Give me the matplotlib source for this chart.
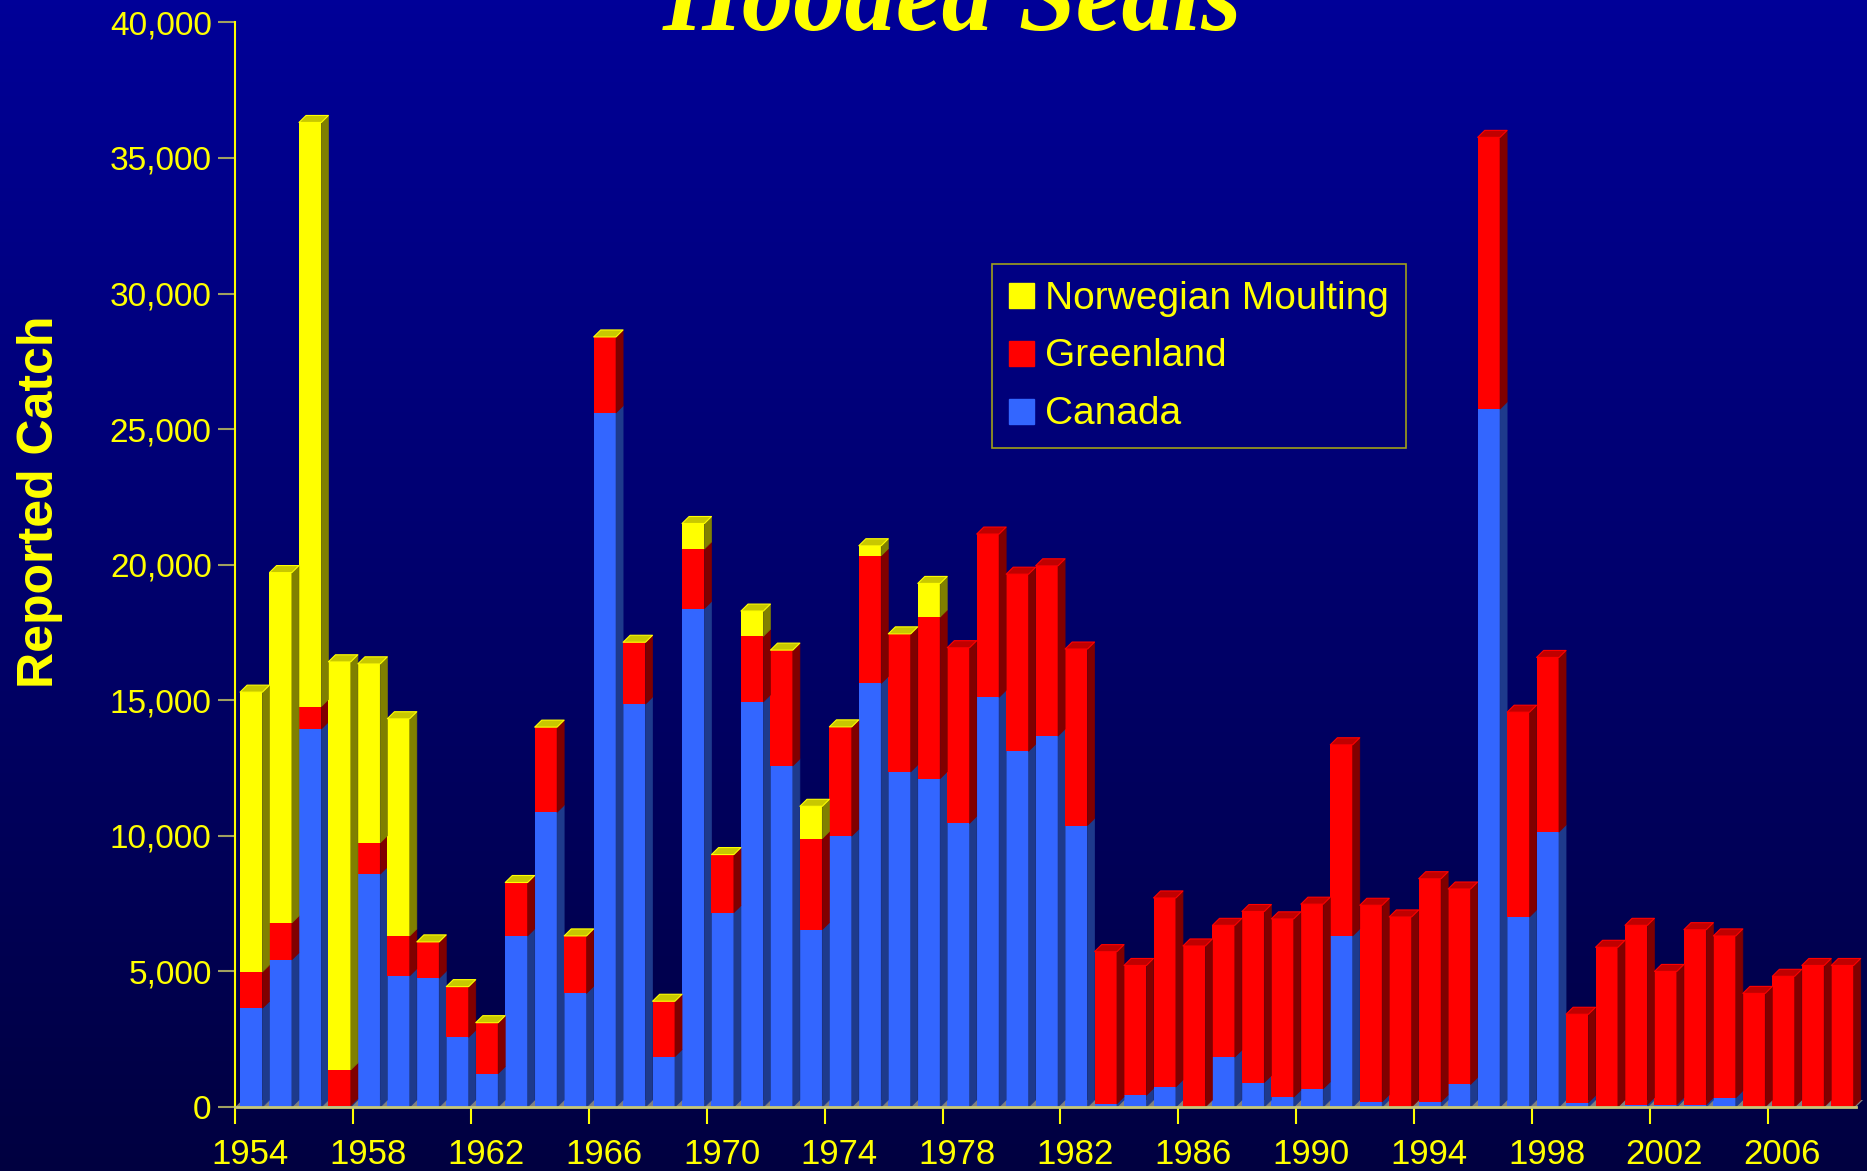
import numpy as np
import matplotlib.pyplot as plt
from matplotlib.colors import LinearSegmentedColormap
from matplotlib.collections import PolyCollection
from matplotlib.lines import Line2D
from matplotlib.ticker import FuncFormatter, FixedLocator

years = list(range(1954, 2009))

canada = [3640, 5430, 13940, 50, 8590, 4840, 4750, 2570, 1230, 6310,
          10870, 4190, 25600, 14860, 1860, 18380, 7170, 14940, 12580, 6540,
          9990, 15620, 12360, 12110, 10460, 15110, 13120, 13680, 10380, 120,
          430, 740, 0, 1840, 900, 360, 670, 6310, 190, 0,
          190, 830, 25740, 7010, 10140, 160, 0, 90, 90, 90,
          340, 0, 0, 0, 0]

greenland = [1340, 1360, 830, 1320, 1155, 1470, 1340, 1870, 1880, 1970,
             3140, 2120, 2800, 2280, 2040, 2200, 2140, 2420, 4270, 3360,
             4030, 4710, 5090, 5960, 6480, 6020, 6530, 6280, 6510, 5610,
             4790, 6970, 5940, 4860, 6310, 6580, 6810, 7050, 7250, 7010,
             8230, 7210, 10020, 7550, 6440, 3260, 5890, 6610, 4910, 6450,
             5970, 4190, 4820, 5220, 5220]

# no Norwegian moulting data after 1977
norway = [10320, 12920, 21540, 15050, 6600, 8010, 0, 0, 0, 0,
          0, 0, 0, 0, 0, 940, 0, 930, 0, 1190,
          0, 370, 0, 1240] + [None] * 31

series = ["Canada", "Greenland", "Norwegian Moulting"]
front = {"Canada": "#3366FF", "Greenland": "#FF0000", "Norwegian Moulting": "#FFFF00"}
side = {"Canada": "#1E3A8C", "Greenland": "#800000", "Norwegian Moulting": "#808000"}
top = {"Canada": "#2A50C8", "Greenland": "#C00000", "Norwegian Moulting": "#C8C800"}

W, H = 1867, 1171
fig = plt.figure(figsize=(W / 100, H / 100), dpi=100)

# background gradient
bg = fig.add_axes([0, 0, 1, 1], zorder=-5)
grad = np.linspace(0, 1, 256).reshape(-1, 1)
cmap = LinearSegmentedColormap.from_list("bg", ["#000098", "#000040"])
bg.imshow(grad, aspect="auto", cmap=cmap, extent=[0, 1, 0, 1], origin="upper")
bg.axis("off")

ax = fig.add_axes([235.3 / W, (H - 1107) / H, (1856 - 235.3) / W, (1107 - 22.4) / H])
ax.patch.set_alpha(0)

x = np.arange(len(years))
xc = x + 0.04
bw = 0.76
dx, dy = 0.24, 258

# floor
ax.fill([-0.5, len(years) - 0.5, len(years) - 0.5 + dx, -0.5 + dx],
        [0, 0, dy, dy], color="#808080", zorder=1, clip_on=False, lw=0)

data = {
    "Canada": np.array(canada, dtype=float),
    "Greenland": np.array(greenland, dtype=float),
    "Norwegian Moulting": np.array([np.nan if v is None else v for v in norway], dtype=float),
}

bottom = np.zeros(len(years))
top_series = [None] * len(years)
for name in series:
    vals = data[name]
    ok = ~np.isnan(vals)
    h = np.where(ok, vals, 0)
    ax.bar(xc[ok], h[ok], bw, bottom=bottom[ok], color=front[name], lw=0, zorder=3)
    sides = []
    for i in np.where(ok)[0]:
        b, t = bottom[i], bottom[i] + h[i]
        r = xc[i] + bw / 2
        if h[i] > 0:
            sides.append([(r, b), (r + dx, b + dy), (r + dx, t + dy), (r, t)])
        top_series[i] = name
    ax.add_collection(PolyCollection(sides, facecolors=side[name], edgecolors=side[name],
                                     lw=0.5, zorder=3, clip_on=False))
    bottom = bottom + h

tops = {n: [] for n in series}
for i, name in enumerate(top_series):
    t = bottom[i]
    l, r = xc[i] - bw / 2, xc[i] + bw / 2
    tops[name].append([(l, t), (r, t), (r + dx, t + dy), (l + dx, t + dy)])
for name in series:
    ax.add_collection(PolyCollection(tops[name], facecolors=top[name],
                                     edgecolors=front[name] if name != "Canada" else top[name],
                                     lw=0.8, zorder=4, clip_on=False))

ax.plot([-0.5, len(years) - 0.5], [0, 0], color="#C8C878", lw=2, zorder=5, clip_on=False)

ax.set_xlim(-0.5, len(years) - 0.5)
ax.set_ylim(0, 40000)

for s in ["top", "right", "bottom"]:
    ax.spines[s].set_visible(False)
ax.spines["left"].set_color("#FFFF00")
ax.spines["left"].set_linewidth(1.5)

ax.yaxis.set_major_locator(FixedLocator(range(0, 40001, 5000)))
ax.yaxis.set_major_formatter(FuncFormatter(lambda v, p: f"{int(v):,}"))
ax.tick_params(axis="y", colors="#A0A060", length=12, width=1.5, pad=5,
               labelsize=24, labelcolor="#FFFF00")

ax.xaxis.set_major_locator(FixedLocator(np.arange(-0.5, len(years), 4)))
ax.xaxis.set_minor_locator(FixedLocator(x[::4]))
ax.xaxis.set_major_formatter(FuncFormatter(lambda v, p: ""))
ax.xaxis.set_minor_formatter(FuncFormatter(lambda v, p: str(years[int(round(v))])))
ax.tick_params(axis="x", which="major", colors="#FFFF00", length=12, width=1.5)
ax.tick_params(axis="x", which="minor", length=0, pad=22, labelsize=25, labelcolor="#FFFF00")

for lab in ax.get_xticklabels(minor=True) + ax.get_yticklabels():
    lab.set_fontfamily("Liberation Sans")

fig.text(40 / W, 1 - 502 / H, "Reported Catch", rotation=90, ha="center", va="center",
         color="#FFFF00", fontsize=36, fontweight="bold", family="Liberation Sans")

fig.text(952 / W, 1 - 30 / H, "Hooded Seals", ha="center", va="baseline",
         color="#FFFF00", fontsize=74, fontweight="bold", fontstyle="italic",
         family="Liberation Serif")

handles = [Line2D([], [], marker="s", ls="none", markersize=18,
                  markerfacecolor=front[n], markeredgecolor=front[n]) for n in series[::-1]]
leg = ax.legend(handles, series[::-1], loc="upper left", bbox_to_anchor=(0.467, 0.777),
                borderaxespad=0, frameon=True, fancybox=False,
                handlelength=0.65, handletextpad=0.3, labelspacing=0.56, borderpad=0.42,
                prop={"family": "Liberation Sans", "size": 28})
leg.get_frame().set_facecolor("none")
leg.get_frame().set_edgecolor("#C8C800")
leg.get_frame().set_linewidth(1.2)
for t in leg.get_texts():
    t.set_color("#FFFF00")

fig.savefig("out.png", dpi=100)
